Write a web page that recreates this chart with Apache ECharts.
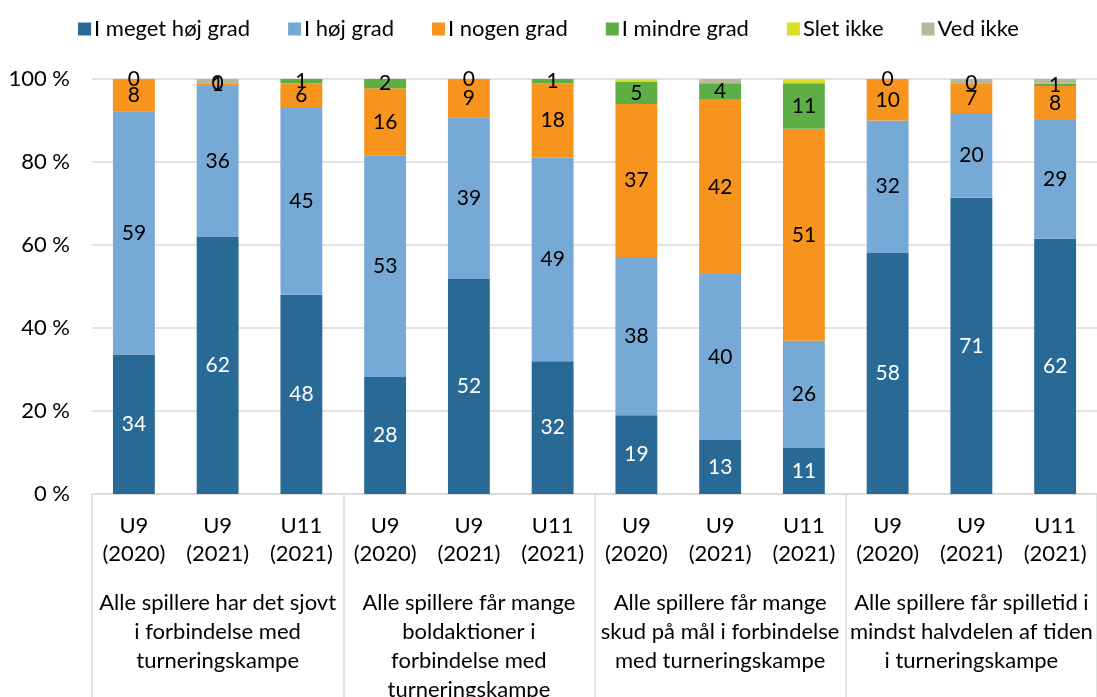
<!DOCTYPE html>
<html>
<head>
<meta charset="utf-8">
<script src="https://cdn.jsdelivr.net/npm/echarts@6/dist/echarts.min.js"></script>
<style>
html, body { margin: 0; padding: 0; background: #fff; }
#chart { width: 1097px; height: 697px; }
</style>
</head>
<body>
<div id="chart"></div>
<script>
var subCats = ['U9\n(2020)', 'U9\n(2021)', 'U11\n(2021)',
               'U9\n(2020)', 'U9\n(2021)', 'U11\n(2021)',
               'U9\n(2020)', 'U9\n(2021)', 'U11\n(2021)',
               'U9\n(2020)', 'U9\n(2021)', 'U11\n(2021)'];
var groups = ['Alle spillere har det sjovt\ni forbindelse med\nturneringskampe',
              'Alle spillere får mange\nboldaktioner i\nforbindelse med\nturneringskampe',
              'Alle spillere får mange\nskud på mål i forbindelse\nmed turneringskampe',
              'Alle spillere får spilletid i\nmindst halvdelen af tiden\ni turneringskampe'];
var yTicks = [0, 20, 40, 60, 80, 100];

// andele i procent
var megetHoej = [33.6, 61.9, 48.0, 28.2, 51.8, 32.0, 19.0, 13.0, 11.1, 58.1, 71.4, 61.5];
var hoej      = [58.6, 36.4, 45.0, 53.4, 39.0, 49.0, 38.1, 40.0, 25.8, 31.9, 20.4, 28.6];
var nogen     = [ 7.8,  0.7,  6.0, 16.2,  9.2, 18.0, 36.9, 42.0, 51.1, 10.0,  7.2,  8.2];
var mindre    = [ 0.0,  0.0,  1.0,  2.2,  0.0,  1.0,  5.3,  4.0, 11.0,  0.0,  0.0,  0.6];
var sletIkke  = [ 0.0,  0.0,  0.0,  0.0,  0.0,  0.0,  0.7,  0.0,  1.0,  0.0,  0.0,  0.0];
var vedIkke   = [ 0.0,  1.0,  0.0,  0.0,  0.0,  0.0,  0.0,  1.0,  0.0,  0.0,  1.0,  1.1];

var names = ['I meget høj grad', 'I høj grad', 'I nogen grad', 'I mindre grad', 'Slet ikke', 'Ved ikke'];
var colors = ['#286A95', '#77A9D7', '#F7941D', '#5DAF45', '#D9DF26', '#B8B89E'];
var FONT = 'Lato';

var chart = echarts.init(document.getElementById('chart'));

function mkSeries(i, data, showLabel, labelColor) {
    return {
        name: names[i],
        type: 'bar',
        stack: 'total',
        barWidth: '50%',
        data: data,
        itemStyle: { color: colors[i] },
        label: {
            show: showLabel,
            position: 'inside',
            color: labelColor,
            fontFamily: FONT,
            fontSize: 21,
            formatter: function (p) { return Math.round(p.value); }
        }
    };
}

chart.setOption({
    animation: false,
    color: colors,
    legend: {
        top: 13,
        left: 'center',
        itemWidth: 13,
        itemHeight: 13,
        itemGap: 38,
        icon: 'rect',
        textStyle: { fontFamily: FONT, fontSize: 22, color: '#000', padding: [0, 0, 0, -2] },
        data: names
    },
    grid: { left: 92, right: 0, top: 79, bottom: 203, outerBoundsMode: 'none' },
    xAxis: [
        {
            type: 'category',
            data: subCats,
            axisLine: { lineStyle: { color: '#D9D9D9', width: 1.5 } },
            axisTick: { show: false },
            axisLabel: {
                interval: 0,
                margin: 18,
                fontFamily: FONT,
                fontSize: 22,
                lineHeight: 28,
                color: '#000'
            }
        },
        {
            type: 'category',
            position: 'bottom',
            data: groups,
            axisLine: { show: false },
            axisTick: { show: true, interval: 0, length: 210, lineStyle: { color: '#D9D9D9', width: 1.5 } },
            axisLabel: {
                interval: 0,
                margin: 94,
                fontFamily: FONT,
                fontSize: 22,
                lineHeight: 29,
                color: '#000',
                verticalAlign: 'top'
            }
        }
    ],
    yAxis: {
        type: 'value',
        min: yTicks[0],
        max: yTicks[yTicks.length - 1],
        interval: 20,
        axisLine: { show: false },
        axisTick: { show: false },
        splitLine: { lineStyle: { color: '#D9D9D9', width: 1.5 } },
        axisLabel: {
            margin: 22,
            fontFamily: FONT,
            fontSize: 22,
            color: '#000',
            formatter: '{value} %'
        }
    },
    series: [
        mkSeries(0, megetHoej, true, '#fff'),
        mkSeries(1, hoej, true, '#000'),
        mkSeries(2, nogen, true, '#000'),
        mkSeries(3, mindre, true, '#000'),
        mkSeries(4, sletIkke, false, '#000'),
        mkSeries(5, vedIkke, false, '#000')
    ]
});
</script>
</body>
</html>
